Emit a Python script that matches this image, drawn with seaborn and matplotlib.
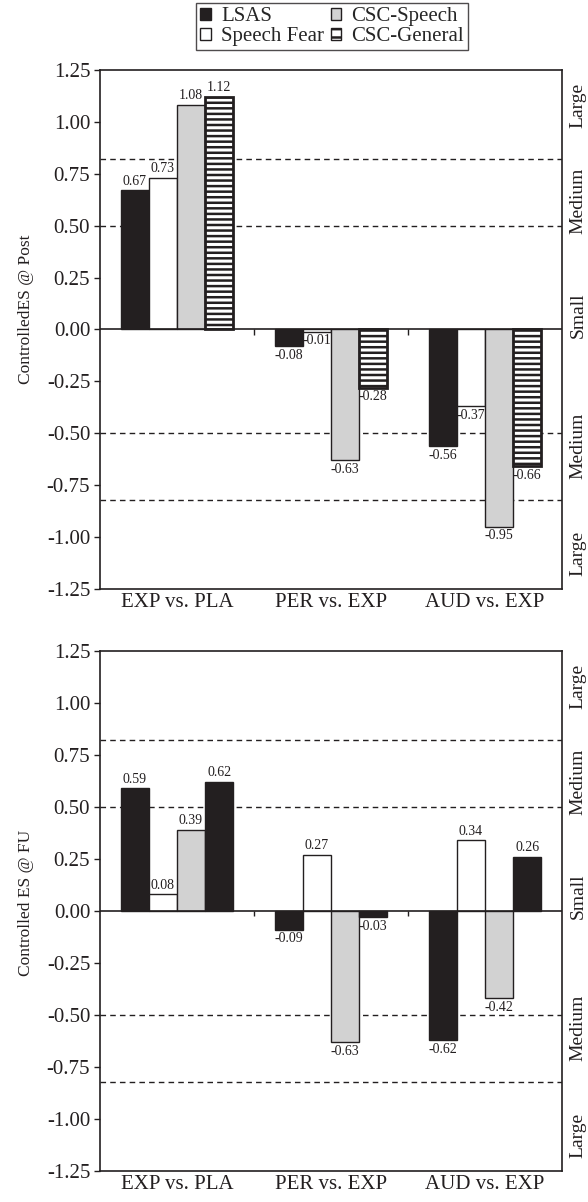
import matplotlib
matplotlib.use("Agg")
import matplotlib.pyplot as plt
import matplotlib.transforms as mtransforms
from matplotlib.patches import Patch
import seaborn as sns
import pandas as pd

categories = ["EXP vs. PLA", "PER vs. EXP", "AUD vs. EXP"]
series = ["LSAS", "Speech Fear", "CSC-Speech", "CSC-General"]

post_lsas = [0.67, -0.08, -0.56]
post_speech_fear = [0.73, -0.01, -0.37]
post_csc_speech = [1.08, -0.63, -0.95]
post_csc_general = [1.12, -0.28, -0.66]

fu_lsas = [0.59, -0.09, -0.62]
fu_speech_fear = [0.08, 0.27, 0.34]
fu_csc_speech = [0.39, -0.63, -0.42]
fu_csc_general = [0.62, -0.03, 0.26]

yticks = [1.25, 1.00, 0.75, 0.50, 0.25, 0.00, -0.25, -0.50, -0.75, -1.00, -1.25]
thresholds = [0.82, 0.5, -0.5, -0.82]
size_labels = ["Large", "Medium", "Small", "Medium", "Large"]
size_label_pos = [1.08, 0.62, 0.07, -0.56, -1.08]

sns.set_theme(style="white")
plt.rcParams["font.family"] = ["Liberation Serif", "DejaVu Serif"]
plt.rcParams["hatch.linewidth"] = 1.8
plt.rcParams["hatch.color"] = "#231f20"

DARK = "#231f20"
GRAY = "#d2d2d2"

def make_df(vals):
    rows = []
    for s, v in zip(series, vals):
        for c, x in zip(categories, v):
            rows.append({"cat": c, "series": s, "value": x})
    return pd.DataFrame(rows)

fig = plt.figure(figsize=(5.88, 12.02), dpi=100)
ax1 = fig.add_axes([0.170, 0.510, 0.786, 0.4318])
ax2 = fig.add_axes([0.170, 0.0258, 0.786, 0.4326])

panels = [
    (ax1, [post_lsas, post_speech_fear, post_csc_speech, post_csc_general],
     "ControlledES @ Post", [DARK, "white", GRAY, "white"], [None, None, None, "---"], 0.538),
    (ax2, [fu_lsas, fu_speech_fear, fu_csc_speech, fu_csc_general],
     "Controlled ES @ FU", [DARK, "white", GRAY, DARK], [None, None, None, None], 0.515),
]

for ax, vals, ylabel, colors, hatches, ylab_y in panels:
    df = make_df(vals)
    sns.barplot(data=df, x="cat", y="value", hue="series", hue_order=series,
                order=categories, palette=dict(zip(series, colors)),
                width=0.73, ax=ax, legend=False, saturation=1,
                edgecolor=DARK, linewidth=1.0)
    for cont, h, v in zip(ax.containers, hatches, vals):
        for p in cont:
            if h:
                p.set_hatch(h)
                p.set_linewidth(2.0)
        ax.bar_label(cont, labels=[f"{x:.2f}" for x in v], padding=2,
                     fontsize=10, color=DARK)
    for t in thresholds:
        ax.axhline(t, color=DARK, linestyle=(0, (4, 3)), linewidth=1.0, zorder=0)
    ax.axhline(0, color=DARK, linewidth=1.2, zorder=3)
    ax.vlines([0.5, 1.5], -0.025, 0, color=DARK, linewidth=1.0)
    ax.set_ylim(-1.25, 1.25)
    ax.set_xlim(-0.5, 2.5)
    ax.set_yticks(yticks)
    ax.set_yticklabels([f"{y:.2f}" for y in yticks], fontsize=15, color=DARK)
    ax.set_xticks(range(len(categories)))
    ax.set_xticklabels(categories, fontsize=15, color=DARK)
    ax.tick_params(axis="y", which="both", left=True, length=4, width=1, color=DARK, pad=3)
    ax.tick_params(axis="x", bottom=False, length=0, pad=3)
    ax.set_xlabel("")
    ax.set_ylabel(ylabel, fontsize=12.5, color=DARK)
    ax.yaxis.set_label_coords(-0.142, ylab_y)
    for sp in ax.spines.values():
        sp.set_visible(True)
        sp.set_color(DARK)
        sp.set_linewidth(1.2)
    trans = mtransforms.blended_transform_factory(ax.transAxes, ax.transData)
    for lab, pos in zip(size_labels, size_label_pos):
        ax.text(1.035, pos, lab, rotation=90, transform=trans, ha="center",
                va="center", fontsize=14, color=DARK)

handles = [
    Patch(facecolor=DARK, edgecolor=DARK, label="LSAS"),
    Patch(facecolor="white", edgecolor=DARK, label="Speech Fear"),
    Patch(facecolor=GRAY, edgecolor=DARK, label="CSC-Speech"),
    Patch(facecolor="white", edgecolor=DARK, hatch="--", label="CSC-General"),
]
fig.legend(handles=handles, ncol=2, loc="upper center", bbox_to_anchor=(0.565, 0.9975),
           fontsize=15, frameon=True, fancybox=False, edgecolor=DARK,
           handlelength=0.5, handleheight=0.5, handletextpad=0.5,
           columnspacing=0.3, labelspacing=0.05, borderpad=0.2,
           borderaxespad=0.0)

fig.savefig("out.png", dpi=100)
